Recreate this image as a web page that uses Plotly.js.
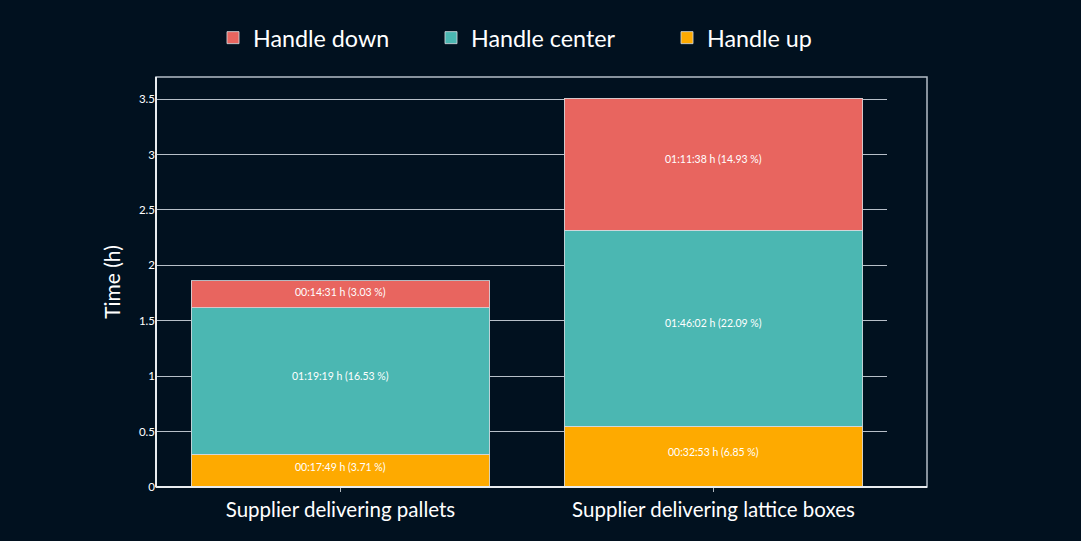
<!DOCTYPE html>
<html>
<head>
<meta charset="utf-8">
<script src="https://cdn.plot.ly/plotly-3.0.1.min.js"></script>
<style>
html,body{margin:0;padding:0;background:#01111f;}
#chart{width:1081px;height:541px;}
</style>
</head>
<body>
<div id="chart"></div>
<script>
// Data
const categories = ["Supplier delivering pallets", "Supplier delivering lattice boxes"];
const seriesNames = ["Handle up", "Handle center", "Handle down"];
const handleUp = [0.2969, 0.5481];
const handleCenter = [1.3219, 1.7672];
const handleDown = [0.2419, 1.1939];
const labelsUp = ["00:17:49 h (3.71 %)", "00:32:53 h (6.85 %)"];
const labelsCenter = ["01:19:19 h (16.53 %)", "01:46:02 h (22.09 %)"];
const labelsDown = ["00:14:31 h (3.03 %)", "01:11:38 h (14.93 %)"];
const yTicks = [0, 0.5, 1, 1.5, 2, 2.5, 3, 3.5];
const yTickText = ["0", "0.5", "1", "1.5", "2", "2.5", "3", "3.5"];

const colors = {up: "#feaa00", center: "#4bb7b2", down: "#e8655f"};
const FONT = "Lato, 'Source Sans Pro', sans-serif";
const Y_MAX = 3.7;
const PLOT_H = 410;

function barTrace(name, y, color, legendId) {
  return {
    type: "bar",
    name: name,
    x: categories,
    y: y,
    marker: {color: color, line: {color: "rgba(210,215,220,0.85)", width: 1}},
    legend: legendId,
    hoverinfo: "none"
  };
}

const data = [
  barTrace(seriesNames[0], handleUp, colors.up, "legend3"),
  barTrace(seriesNames[1], handleCenter, colors.center, "legend2"),
  barTrace(seriesNames[2], handleDown, colors.down, "legend")
];

// Segment labels placed at the middle of each stacked segment
const annotations = [];
const stacks = [[handleUp, labelsUp], [handleCenter, labelsCenter], [handleDown, labelsDown]];
categories.forEach((cat, i) => {
  let base = 0;
  stacks.forEach(([vals, labs]) => {
    const v = vals[i];
    const segPx = v * PLOT_H / Y_MAX;
    annotations.push({
      x: cat, y: base + v / 2, xref: "x", yref: "y",
      text: labs[i], showarrow: false,
      yshift: Math.min(5, segPx * 0.1),
      font: {family: FONT, size: 10.5, color: "#ffffff"}
    });
    base += v;
  });
});

const legendBase = {
  orientation: "h",
  xref: "container", yref: "container",
  yanchor: "middle", xanchor: "left",
  y: 1 - 38/541,
  bgcolor: "rgba(0,0,0,0)",
  font: {family: FONT, size: 23.3, color: "#ffffff"}
};

const layout = {
  width: 1081, height: 541,
  paper_bgcolor: "#01111f",
  plot_bgcolor: "#01111f",
  margin: {l: 156, r: 194, t: 77, b: 54, pad: 0},
  barmode: "stack",
  bargap: 0.2,
  showlegend: true,
  legend: Object.assign({}, legendBase, {x: 213/1081}),
  legend2: Object.assign({}, legendBase, {x: 431/1081}),
  legend3: Object.assign({}, legendBase, {x: 667/1081}),
  font: {family: FONT, color: "#ffffff"},
  annotations: annotations,
  xaxis: {
    range: [-0.4946, 1.4651],
    showgrid: false,
    zeroline: false,
    showline: false,
    ticks: "outside", ticklen: 4, tickcolor: "rgba(220,225,230,0.8)",
    tickfont: {family: FONT, size: 20.5, color: "#ffffff"},
    fixedrange: true
  },
  yaxis: {
    range: [0, Y_MAX],
    tickvals: yTicks,
    ticktext: yTickText,
    showgrid: true,
    gridcolor: "rgba(215,222,230,0.85)",
    gridwidth: 1,
    zeroline: false,
    showline: false,
    ticks: "",
    tickfont: {family: FONT, size: 11.5, color: "#ffffff"},
    title: {text: "Time (h)", font: {family: FONT, size: 21, color: "#ffffff"}, standoff: 12},
    fixedrange: true
  },
  shapes: [
    {type: "rect", xref: "paper", yref: "paper", x0: 0, x1: (927-156)/731, y0: 0, y1: 1,
     line: {color: "rgba(200,208,216,0.9)", width: 1.5}, fillcolor: "rgba(0,0,0,0)", layer: "above"},
    {type: "line", xref: "paper", yref: "paper", x0: 0, x1: 0, y0: 0, y1: 1,
     line: {color: "#e8ecef", width: 2}, layer: "above"},
    {type: "line", xref: "paper", yref: "paper", x0: 0, x1: (927-156)/731, y0: 0, y1: 0,
     line: {color: "#e8ecef", width: 2}, layer: "above"}
  ]
};

Plotly.newPlot("chart", data, layout, {displayModeBar: false, staticPlot: true});
</script>
</body>
</html>
